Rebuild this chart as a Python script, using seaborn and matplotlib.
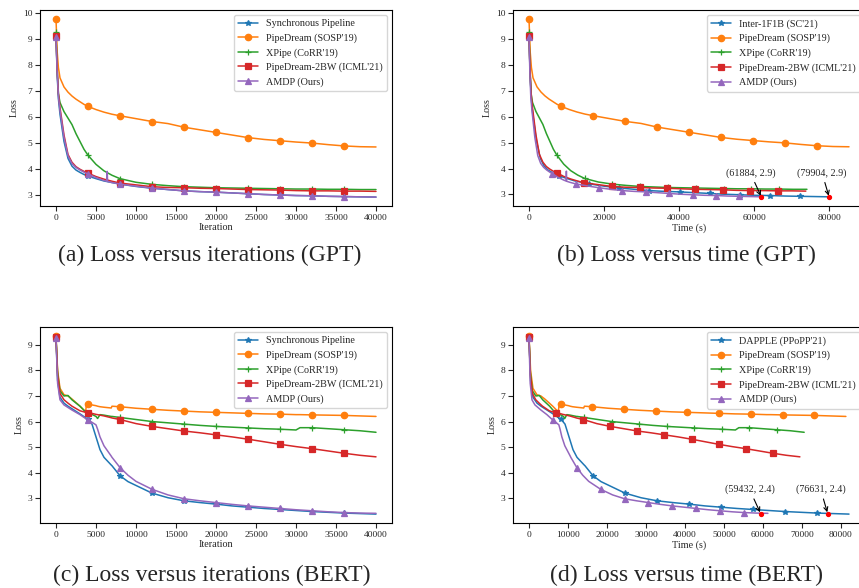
import matplotlib
matplotlib.use("Agg")
import matplotlib.pyplot as plt
import seaborn as sns

# ---- GPT runs: loss read at these iterations ----
GPT_ITERS = [0, 150, 300, 500, 1000, 1500, 2000, 2500, 3000, 3500, 4000, 5000, 6000, 7000, 8000,
             10000, 12000, 14000, 16000, 18000, 20000, 22000, 24000, 26000, 28000, 30000,
             32000, 34000, 36000, 38000, 40000]
GPT_SYNC = [9.05, 7.6, 6.7, 6.1, 5.05, 4.4, 4.1, 3.95, 3.86, 3.78, 3.72, 3.62, 3.53, 3.47, 3.41,
            3.32, 3.25, 3.2, 3.15, 3.12, 3.1, 3.07, 3.04, 3.01, 2.99, 2.97, 2.96, 2.94, 2.93, 2.92, 2.91]
GPT_PIPEDREAM = [9.77, 8.5, 7.9, 7.5, 7.15, 6.95, 6.8, 6.68, 6.58, 6.48, 6.4, 6.28, 6.18, 6.1, 6.04,
                 5.93, 5.82, 5.74, 5.6, 5.5, 5.4, 5.3, 5.2, 5.13, 5.08, 5.03, 4.99, 4.93, 4.88, 4.85, 4.84]
GPT_XPIPE = [9.25, 7.8, 6.9, 6.55, 6.2, 5.95, 5.7, 5.35, 5.05, 4.75, 4.52, 4.17, 3.92, 3.75, 3.62,
             3.48, 3.4, 3.35, 3.31, 3.29, 3.27, 3.26, 3.25, 3.24, 3.23, 3.22, 3.22, 3.21, 3.21, 3.2, 3.2]
GPT_2BW = [9.1, 7.8, 6.9, 6.35, 5.3, 4.55, 4.25, 4.08, 3.98, 3.9, 3.83, 3.7, 3.6, 3.52, 3.45,
           3.38, 3.31, 3.28, 3.27, 3.25, 3.24, 3.22, 3.2, 3.19, 3.18, 3.16, 3.15, 3.15, 3.14, 3.14, 3.13]
GPT_AMDP = [9.07, 7.7, 6.8, 6.25, 5.2, 4.5, 4.2, 4.05, 3.95, 3.87, 3.8, 3.66, 3.55, 3.47, 3.41,
            3.33, 3.26, 3.2, 3.15, 3.12, 3.1, 3.07, 3.04, 3.01, 2.99, 2.97, 2.96, 2.94, 2.93, 2.92, 2.91]
# spike in the AMDP GPT curve
GPT_AMDP_SPIKE_ITERS = [6350, 6400, 6450]
GPT_AMDP_SPIKE_LOSS = [3.52, 3.9, 3.51]
# wall-clock time at the end of the 40000 iterations (s)
GPT_END_TIME = [80200, 85200, 74000, 73700, 62200]

# ---- BERT runs ----
BERT_ITERS = [0, 200, 500, 1000, 1500, 2000, 3000, 3700, 3800, 4000, 4500, 5000, 5200, 5500, 6000,
              6900, 7000, 8000, 9000, 10000, 12000, 14000, 16000, 18000, 20000, 22000, 24000,
              26000, 28000, 30000, 30500, 32000, 34000, 36000, 38000, 40000]
BERT_SYNC = [9.28, 7.6, 6.95, 6.72, 6.6, 6.5, 6.3, 6.15, 6.13, 6.09, 5.9, 5.4, 5.2, 4.9, 4.6,
             4.3, 4.27, 3.88, 3.65, 3.5, 3.2, 3.02, 2.9, 2.83, 2.77, 2.7, 2.65,
             2.6, 2.56, 2.52, 2.51, 2.48, 2.45, 2.42, 2.4, 2.38]
BERT_PIPEDREAM = [9.35, 8.0, 7.3, 7.05, 7.0, 6.88, 6.6, 6.38, 6.65, 6.7, 6.65, 6.62, 6.6, 6.58, 6.56,
                  6.53, 6.6, 6.58, 6.55, 6.52, 6.48, 6.44, 6.41, 6.38, 6.36, 6.34, 6.32,
                  6.3, 6.29, 6.27, 6.27, 6.26, 6.25, 6.24, 6.22, 6.2]
BERT_XPIPE = [9.3, 7.9, 7.2, 7.0, 7.02, 6.85, 6.6, 6.38, 6.33, 6.3, 6.28, 6.2, 6.12, 6.27, 6.25,
              6.2, 6.2, 6.16, 6.12, 6.08, 6.0, 5.95, 5.9, 5.85, 5.81, 5.78, 5.75,
              5.72, 5.7, 5.67, 5.76, 5.76, 5.72, 5.68, 5.64, 5.58]
BERT_2BW = [9.3, 7.8, 7.1, 6.85, 6.72, 6.6, 6.42, 6.36, 6.36, 6.35, 6.32, 6.28, 6.27, 6.25, 6.22,
            6.15, 6.14, 6.08, 6.0, 5.92, 5.81, 5.72, 5.63, 5.56, 5.48, 5.4, 5.31,
            5.21, 5.11, 5.02, 5.0, 4.94, 4.85, 4.76, 4.68, 4.62]
BERT_AMDP = [9.25, 7.5, 6.85, 6.65, 6.55, 6.45, 6.27, 6.12, 6.1, 6.06, 5.97, 5.87, 5.7, 5.4, 5.05,
             4.65, 4.6, 4.2, 3.9, 3.66, 3.35, 3.13, 2.98, 2.9, 2.83, 2.76, 2.7,
             2.65, 2.6, 2.55, 2.54, 2.51, 2.47, 2.44, 2.42, 2.41]
BERT_END_TIME = [82100, 81300, 70600, 69500, 61300]

LABELS_ITER = ["Synchronous Pipeline", "PipeDream (SOSP'19)", "XPipe (CoRR'19)",
               "PipeDream-2BW (ICML'21)", "AMDP (Ours)"]
LABELS_GPT_TIME = ["Inter-1F1B (SC'21)"] + LABELS_ITER[1:]
LABELS_BERT_TIME = ["DAPPLE (PPoPP'21)"] + LABELS_ITER[1:]

GPT_ANNOT_X = [61884, 79904]
GPT_ANNOT_Y = 2.9
BERT_ANNOT_X = [59432, 76631]
BERT_ANNOT_Y = 2.4

CAPTIONS = ["(a) Loss versus iterations (GPT)", "(b) Loss versus time (GPT)",
            "(c) Loss versus iterations (BERT)", "(d) Loss versus time (BERT)"]

COLORS = ["#1f77b4", "#ff7f0e", "#2ca02c", "#d62728", "#9467bd"]
MARKERS = ["*", "o", "+", "s", "^"]
MSIZES = [4.2, 4.6, 4.6, 4.2, 4.6]

W, H = 859, 588


def px_box(left, top, width, height):
    return [left / W, 1 - (top + height) / H, width / W, height / H]


def draw(ax, series, labels, xlabel, xticks, yticks):
    for (x, y, idx), lab, c, m, ms in zip(series, labels, COLORS, MARKERS, MSIZES):
        sns.lineplot(x=x, y=y, ax=ax, color=c, marker=m, markersize=ms, markevery=idx,
                     markeredgecolor=c, markeredgewidth=0.9, linewidth=1.1, label=lab,
                     estimator=None, sort=False)
    ax.set_xticks(xticks)
    ax.set_yticks(yticks)
    ax.set_xlabel(xlabel, fontsize=7.3, labelpad=1)
    ax.set_ylabel("Loss", fontsize=7.3, labelpad=3)
    ax.tick_params(length=3.5, width=0.8, labelsize=6.8, pad=2)
    for s in ax.spines.values():
        s.set_linewidth(0.8)
        s.set_color("black")
    ax.legend(loc="upper right", fontsize=7.3, handlelength=2.0, borderaxespad=0.5)


def annotate(ax, xs, y):
    offsets = [(-11, 24), (-7, 24)]
    for x, off in zip(xs, offsets):
        ax.plot([x], [y], "o", color="red", markersize=2.8, zorder=5)
        ax.annotate("(%d, %.1f)" % (x, y), xy=(x, y), xytext=off, textcoords="offset pixels",
                    ha="center", va="center", fontsize=7.3,
                    arrowprops=dict(arrowstyle="->", color="black", lw=0.8, shrinkA=1, shrinkB=1))


def build(iters, curves, ends=None, spike=None):
    out = []
    for k, loss in enumerate(curves):
        it = list(iters)
        ls = list(loss)
        if spike is not None and k == 4:
            pairs = sorted(zip(it + spike[0], ls + spike[1]))
            it = [p[0] for p in pairs]
            ls = [p[1] for p in pairs]
        idx = [i for i, v in enumerate(it) if v % 4000 == 0 and v < 40000]
        if ends is not None:
            xs = [v * ends[k] / 40000 for v in it]
        else:
            xs = it
        out.append((xs, ls, idx))
    return out


def main():
    sns.set_theme(style="ticks")
    plt.rcParams["font.family"] = ["Liberation Serif", "DejaVu Serif"]

    fig = plt.figure(figsize=(W / 100, H / 100), dpi=100)
    ax_a = fig.add_axes(px_box(40, 10, 352, 196))
    ax_b = fig.add_axes(px_box(513, 10, 352, 196))
    ax_c = fig.add_axes(px_box(40, 327, 352, 196))
    ax_d = fig.add_axes(px_box(513, 327, 352, 196))

    gpt = [GPT_SYNC, GPT_PIPEDREAM, GPT_XPIPE, GPT_2BW, GPT_AMDP]
    bert = [BERT_SYNC, BERT_PIPEDREAM, BERT_XPIPE, BERT_2BW, BERT_AMDP]
    spike = (GPT_AMDP_SPIKE_ITERS, GPT_AMDP_SPIKE_LOSS)

    draw(ax_a, build(GPT_ITERS, gpt, spike=spike), LABELS_ITER, "Iteration",
         range(0, 40001, 5000), range(3, 11))
    draw(ax_b, build(GPT_ITERS, gpt, GPT_END_TIME, spike), LABELS_GPT_TIME, "Time (s)",
         range(0, 80001, 20000), range(3, 11))
    annotate(ax_b, GPT_ANNOT_X, GPT_ANNOT_Y)

    draw(ax_c, build(BERT_ITERS, bert), LABELS_ITER, "Iteration",
         range(0, 40001, 5000), range(3, 10))
    draw(ax_d, build(BERT_ITERS, bert, BERT_END_TIME), LABELS_BERT_TIME, "Time (s)",
         range(0, 80001, 10000), range(3, 10))
    annotate(ax_d, BERT_ANNOT_X, BERT_ANNOT_Y)

    cap_pos = [(210, 255), (686, 255), (212, 575), (687, 575)]
    for (cx, cy), txt in zip(cap_pos, CAPTIONS):
        fig.text(cx / W, 1 - cy / H, txt, ha="center", va="center", fontsize=17)

    fig.savefig("out.png", dpi=100)


if __name__ == "__main__":
    main()
